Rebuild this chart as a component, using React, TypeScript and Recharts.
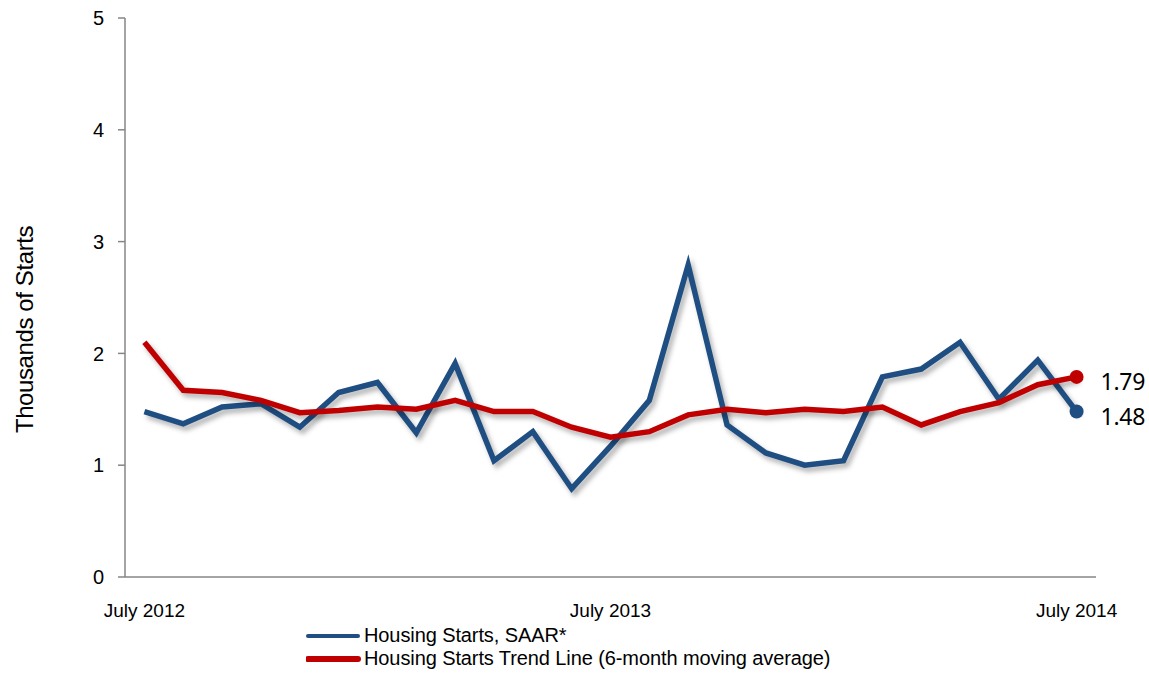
import React from "react";
import { LineChart, Line, XAxis, YAxis, Legend } from "recharts";

// monthly categories, July 2012 .. July 2014
const months = [
  "Jul 2012", "Aug 2012", "Sep 2012", "Oct 2012", "Nov 2012", "Dec 2012",
  "Jan 2013", "Feb 2013", "Mar 2013", "Apr 2013", "May 2013", "Jun 2013",
  "Jul 2013", "Aug 2013", "Sep 2013", "Oct 2013", "Nov 2013", "Dec 2013",
  "Jan 2014", "Feb 2014", "Mar 2014", "Apr 2014", "May 2014", "Jun 2014",
  "Jul 2014",
];

const starts = [
  1.48, 1.37, 1.52, 1.55, 1.34, 1.65, 1.74, 1.29, 1.91, 1.04, 1.3, 0.79,
  1.17, 1.58, 2.79, 1.36, 1.11, 1.0, 1.04, 1.79, 1.86, 2.1, 1.59, 1.94, 1.48,
];

const trend = [
  2.1, 1.67, 1.65, 1.58, 1.47, 1.49, 1.52, 1.5, 1.58, 1.48, 1.48, 1.34,
  1.25, 1.3, 1.45, 1.5, 1.47, 1.5, 1.48, 1.52, 1.36, 1.48, 1.56, 1.72, 1.79,
];

const yTicks = [0, 1, 2, 3, 4, 5];
const xTickIndexes = [0, 12, 24];
const xTickLabels = ["July 2012", "July 2013", "July 2014"];

const BLUE = "#1f4e82";
const RED = "#c00000";
const AXIS = "#868686";
const FONT = "'Liberation Sans', Arial, sans-serif";

const data = months.map((month, i) => ({
  i,
  month,
  starts: starts[i],
  trend: trend[i],
}));

const last = data.length - 1;

const endDot = (color: string) => (props: any) => {
  const { cx, cy, index } = props;
  if (index !== last) return <g key={`d-${index}`} />;
  return <circle key={`d-${index}`} cx={cx} cy={cy} r={7} fill={color} />;
};

const endLabel = (props: any) => {
  const { x, y, index, value } = props;
  if (index !== last) return <g key={`l-${index}`} />;
  return (
    <text
      key={`l-${index}`}
      x={x + 24}
      y={y + 4}
      fontSize={23}
      fontFamily="'Noto Sans', sans-serif"
      fill="#000"
      dominantBaseline="central"
      letterSpacing={-0.3}
    >
      {value.toFixed(2)}
    </text>
  );
};

const legendItems = [
  { label: "Housing Starts, SAAR*", color: BLUE, width: 4 },
  { label: "Housing Starts Trend Line (6-month moving average)", color: RED, width: 6 },
];

const renderLegend = () => (
  <div style={{ fontFamily: FONT, fontSize: 20, color: "#000" }}>
    {legendItems.map((item) => (
      <div
        key={item.label}
        style={{ display: "flex", alignItems: "center", height: 23, letterSpacing: -0.1 }}
      >
        <svg width={58} height={10} style={{ flex: "none" }}>
          <line
            x1={2}
            x2={52}
            y1={5}
            y2={5}
            stroke={item.color}
            strokeWidth={item.width}
            strokeLinecap="round"
          />
        </svg>
        <span>{item.label}</span>
      </div>
    ))}
  </div>
);

const yLabel = (props: any) => {
  const { viewBox } = props;
  const cx = 24;
  const cy = viewBox.y + viewBox.height / 2 + 32;
  return (
    <text
      x={cx}
      y={cy}
      transform={`rotate(-90 ${cx} ${cy})`}
      textAnchor="middle"
      dominantBaseline="central"
      fontSize={24}
      fontFamily={FONT}
      fill="#000"
      letterSpacing={-0.4}
    >
      Thousands of Starts
    </text>
  );
};

export default function App() {
  return (
    <div style={{ width: 1149, height: 675, background: "#fff" }}>
      <style>{`
        body { margin: 0; }
        .shadowed path, .shadowed circle { filter: drop-shadow(3px 4px 2.5px rgba(0,0,0,0.3)); }
      `}</style>
      <LineChart
        width={1149}
        height={675}
        data={data}
        margin={{ top: 18, right: 53, bottom: 0, left: 0 }}
        style={{ fontFamily: FONT }}
      >
        <XAxis
          dataKey="i"
          type="number"
          domain={[-0.5, 24.5]}
          ticks={xTickIndexes}
          tickFormatter={(v: number) => xTickLabels[xTickIndexes.indexOf(v)]}
          tickLine={false}
          tickMargin={21}
          height={98}
          axisLine={{ stroke: AXIS, strokeWidth: 1.5 }}
          tick={{ fill: "#000", fontSize: 19 }}
          interval={0}
        />
        <YAxis
          domain={[0, 5]}
          ticks={yTicks}
          width={125}
          tickSize={7}
          tickMargin={14}
          axisLine={{ stroke: AXIS, strokeWidth: 1.5 }}
          tickLine={{ stroke: AXIS, strokeWidth: 1.5 }}
          tick={{ fill: "#000", fontSize: 20 }}
          label={yLabel}
        />
        <Legend
          layout="vertical"
          align="center"
          verticalAlign="middle"
          wrapperStyle={{ left: 306, top: 624, width: 620, height: 50 }}
          content={renderLegend}
        />
        <Line
          dataKey="starts"
          name="Housing Starts, SAAR*"
          stroke={BLUE}
          strokeWidth={5.5}
          strokeLinejoin="miter"
          className="shadowed"
          dot={endDot(BLUE)}
          activeDot={false}
          label={endLabel}
          isAnimationActive={false}
        />
        <Line
          dataKey="trend"
          name="Housing Starts Trend Line (6-month moving average)"
          stroke={RED}
          strokeWidth={5.5}
          className="shadowed"
          dot={endDot(RED)}
          activeDot={false}
          label={endLabel}
          isAnimationActive={false}
        />
      </LineChart>
    </div>
  );
}
